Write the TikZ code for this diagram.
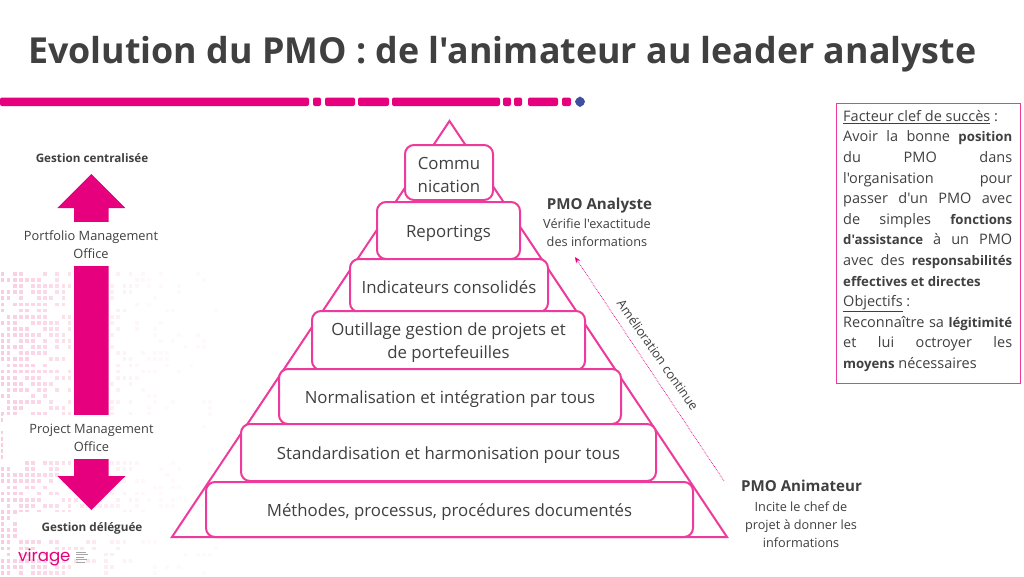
\documentclass[tikz,border=0pt]{standalone}
\usepackage{fontspec}
\newfontfamily\osf{Open Sans}
\newfontfamily\logofont{Poppins}
\usetikzlibrary{arrows.meta}
\definecolor{pk}{HTML}{E6007E}
\definecolor{ln}{HTML}{EE3A9B}
\definecolor{tx}{HTML}{404040}
\definecolor{dotc}{HTML}{F7B8D4}
\definecolor{navy}{HTML}{3F4E9E}
\tikzset{
 lev/.style={draw=ln,line width=2pt,fill=white,rounded corners=9pt,inner sep=0pt},
 levt/.style={text=tx,align=center,font=\fontsize{16.8}{23}\selectfont,inner sep=0pt},
 lab/.style={text=tx,align=center,inner sep=0pt,font=\fontsize{12.8}{18}\selectfont},
 glab/.style={text=tx,align=center,inner sep=0pt,font=\fontsize{11.7}{16}\selectfont\bfseries},
 head/.style={text=tx,align=center,inner sep=0pt,font=\fontsize{15.1}{20}\selectfont\bfseries},
 sub/.style={text=tx,align=center,inner sep=0pt,font=\fontsize{12.7}{18}\selectfont},
 seg/.style={fill=pk,rounded corners=2pt},
 mask/.style={fill=white,draw=none}
}
\newcommand{\lv}[6]{\node[lev,minimum width=#3pt-#2pt,minimum height=#5pt-#4pt] (#1) at ({(#2+#3)/2},{(#4+#5)/2}) {};
 \node[levt] (#1t) at ([yshift=-2.5pt]#1.center) {#6};}
\newcommand{\jl}[1]{\makebox[169pt][s]{#1}\\}
\newcommand{\bb}[1]{{\fontsize{13.2}{20.6}\selectfont\bfseries #1}}
\newcommand{\sg}[2]{\fill[seg] (#1,97.5) rectangle (#2,106);}
\begin{document}
\osf
\begin{tikzpicture}[x=1pt,y=-1pt]
\useasboundingbox (0,0) rectangle (1024,576);
\fill[white] (0,0) rectangle (1024,576);
% dotted background
\pgfmathsetseed{4711}
\foreach \i in {0,...,36}{
 \foreach \j in {0,...,49}{
  \pgfmathsetmacro{\xx}{0.5+\i*6.1}
  \pgfmathsetmacro{\yy}{272+\j*6.1}
  \pgfmathsetmacro{\pr}{max(0,0.85-\xx/260)}
  \pgfmathsetmacro{\op}{max(0.08,0.7-\xx/230)}
  \pgfmathsetmacro{\rr}{rnd}
  \pgfmathparse{\rr<\pr?1:0}
  \ifnum\pgfmathresult=1
   \fill[dotc,opacity=\op] (\xx,\yy) rectangle ++(3.8,3.8);
  \fi
 }
}
% title
\node[anchor=west,inner sep=0pt,text=tx,font=\fontsize{35.8}{40}\selectfont\bfseries] (title) at (28,54) {Evolution du PMO : de l'animateur au leader analyste};
% rule
\sg{0}{309}\sg{313}{321}\sg{325}{355}\sg{358}{389}\sg{392}{500}\sg{503}{511}\sg{514}{522}\sg{528}{558}\sg{562}{571}
\fill[navy] (580,96.5) to[out=-30,in=90] (585,101.7) to[out=-90,in=30] (580,107) to[out=150,in=-90] (575,101.7) to[out=90,in=-150] (580,96.5) -- cycle;
% double arrow
\fill[pk] (91.3,174) -- (125.5,208) -- (108.5,208) -- (108.5,476) -- (125.5,476) -- (91.3,510) -- (57.3,476) -- (74,476) -- (74,208) -- (57.3,208) -- cycle;
\fill[mask] (0,222) rectangle (170,266);
\fill[mask] (3,415) rectangle (200,459);
\fill[mask] (17,512) rectangle (165,540);
\node[lab] (portfolio) at (91,245) {Portfolio Management\\Office};
\node[lab] (project) at (91.5,438) {Project Management\\Office};
\node[glab] (centr) at (92,158) {Gestion centralisée};
\node[glab] (deleg) at (92,528) {Gestion déléguée};
% logo
\node[anchor=west,inner sep=0pt,text=pk,font=\logofont\fontsize{16.6}{20}\selectfont] (logo) at (18,557) {virage};
\foreach \yy/\ww in {552/10,554.5/12,557/8,559.5/11,562/9}
 \draw[gray!70,line width=0.6pt] (76,\yy) -- ++(\ww,0);
% pyramid
\coordinate (apex) at (449.5,121);
\coordinate (bl) at (172,537);
\coordinate (br) at (727,537);
\draw[ln,line width=2pt,line join=miter] (apex) -- (br) -- (bl) -- cycle;
\lv{comm}{405}{493}{145}{200}{\raisebox{1pt}{Commu}\\\raisebox{1pt}{nication}}
\lv{rep}{377}{520}{202}{259}{Reportings}
\lv{ind}{350}{548}{259}{312}{\raisebox{2pt}{Indicateurs consolidés}}
\lv{out}{312}{585}{311}{370}{Outillage gestion de projets et\\de portefeuilles}
\lv{norm}{279}{621}{369}{424}{Normalisation et intégration par tous}
\lv{std}{241}{656}{424}{481}{Standardisation et harmonisation pour tous}
\lv{meth}{206}{693}{482}{537}{Méthodes, processus, procédures documentés}
% side labels
\node[head] (ana) at (599.5,206) {PMO Analyste};
\node[sub] (anas) at (597,233) {Vérifie l'exactitude\\des informations};
\node[head] (ani) at (801.5,486) {PMO Animateur};
\node[sub] (anis) at (801,524.5) {Incite le chef de\\projet à donner les\\informations};
% improvement arrow
\coordinate (impA) at (724,481);
\coordinate (impB) at (575,257);
\draw[pk,line width=0.7pt,densely dotted,-{Stealth[length=6pt,width=5pt]}] (impA) -- (impB);
\node[text=tx,inner sep=0pt,rotate=-55,font=\fontsize{12.7}{16}\selectfont] (impl) at (658,355) {Amélioration continue};
% right box
\node[draw=ln,line width=1pt,fill=white,anchor=north west,minimum width=184.5pt,minimum height=280pt,inner sep=0pt] (boxr) at (835.5,103) {};
\node[anchor=north west,inner sep=0pt,text=tx,align=left,font=\fontsize{14.5}{20.6}\selectfont] (boxt) at (843,110) {%
\underline{Facteur clef de succès} :\\
\jl{Avoir la bonne \bb{position}}
\jl{du PMO dans}
\jl{l'organisation pour}
\jl{passer d'un PMO avec}
\jl{de simples \bb{fonctions}}
\jl{\bb{d'assistance} à un PMO}
\jl{avec des \bb{responsabilités}}
\bb{effectives et directes}\\
\underline{Objectifs} :\\
\jl{Reconnaître sa \bb{légitimité}}
\jl{et lui octroyer les}
\bb{moyens} nécessaires};
\end{tikzpicture}
\end{document}
